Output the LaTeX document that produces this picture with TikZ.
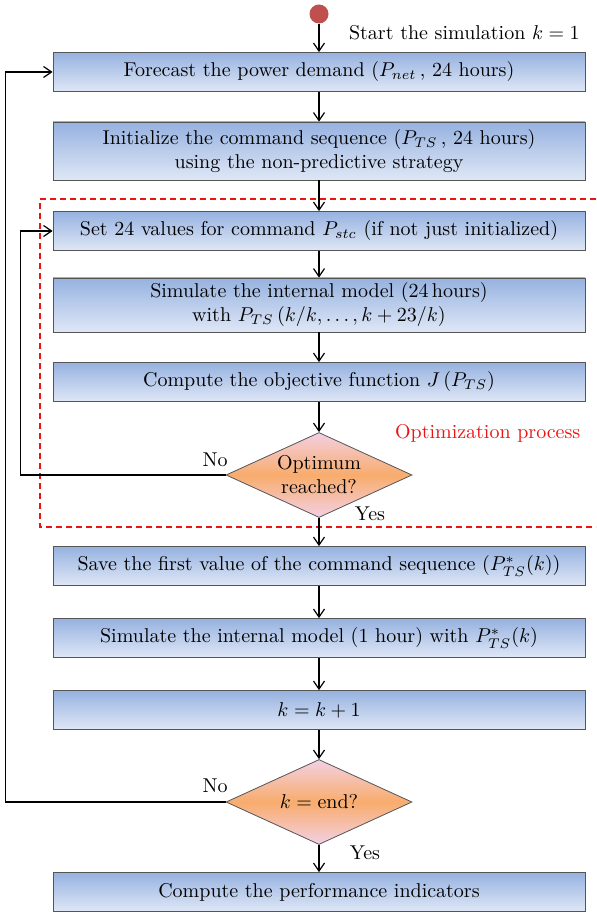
\documentclass[tikz,border=0pt]{standalone}
\usepackage{amsmath}
\usepackage{amssymb}
\usepackage{xcolor}
\usepackage{tikz}
\usetikzlibrary{shapes.geometric, arrows.meta}
\definecolor{startred}{RGB}{192, 80, 77}
\definecolor{boxtop}{RGB}{150, 178, 224}
\definecolor{boxbottom}{RGB}{223, 231, 246}
\definecolor{decisionpink}{RGB}{243, 208, 228}
\definecolor{decisionorange}{RGB}{248, 172, 108}
\definecolor{bordergray}{RGB}{85, 85, 85}
\definecolor{optired}{RGB}{235, 20, 20}

\begin{document}
\begin{tikzpicture}[
        x=0.5pt, y=-0.5pt,
        stepbox/.style={rectangle, draw=bordergray, top color=boxtop, bottom color=boxbottom, minimum width=266pt, minimum height=19.5pt, inner sep=2pt, align=center, text=black},
        decision/.style={diamond, draw=bordergray, top color=decisionpink, bottom color=decisionpink, middle color=decisionorange, minimum width=93pt, minimum height=42.5pt, inner sep=0pt, aspect=2.2, align=center, text=black},
        startdot/.style={circle, fill=startred, minimum size=9.5pt, inner sep=0pt},
        flow/.style={-{Straight Barb[length=4pt, width=5.5pt]}, semithick},
        optibox/.style={optired, semithick, dash pattern=on 3pt off 2pt}
    ]
    \useasboundingbox (0,0) rectangle (596,913);

    % Optimization frame (open on the right)
    \draw[optibox] (596,199) -- (40,199) -- (40,527) -- (596,527);
    \node[text=optired, anchor=west] (optilabel) at (388,433) {Optimization process};

    % Start
    \node[startdot] (start) at (319,14) {};
    \node[anchor=west] (startlabel) at (342,33) {Start the simulation $k=1$};

    % Steps
    \node[stepbox] (forecast) at (319,72) {Forecast the power demand ($P_{net}$\,, 24 hours)};
    \node[stepbox, minimum height=29pt] (init) at (319,151) {Initialize the command sequence ($P_{TS}$\,, 24 hours)\\ using the non-predictive strategy};
    \node[stepbox] (setvalues) at (319,231) {Set 24 values for command $P_{stc}$ (if not just initialized)};
    \node[stepbox, minimum height=27pt] (siminternal) at (319,305) {Simulate the internal model (24\,hours)\\ with $P_{TS}\,(k/k, \ldots, k+23/k)$};
    \node[stepbox] (objective) at (319,382) {Compute the objective function $J\,(P_{TS})$};
    \node[decision] (optimum) at (319,475) {Optimum\\ reached?};
    \node[stepbox] (savefirst) at (319,566) {Save the first value of the command sequence ($P^{*}_{TS}(k)$)};
    \node[stepbox] (simhour) at (319,638) {Simulate the internal model (1 hour) with $P^{*}_{TS}(k)$};
    \node[stepbox] (increment) at (319,710) {$k=k+1$};
    \node[decision] (kend) at (319,802) {$k=\text{end}$?};
    \node[stepbox] (indicators) at (319,892) {Compute the performance indicators};

    % Labels
    \node (optno) at (215,460) {No};
    \node (optyes) at (370,514) {Yes};
    \node (endno) at (215,786) {No};
    \node (endyes) at (365,853) {Yes};

    % Flows
    \draw[flow] (start) -- (forecast);
    \draw[flow] (forecast) -- (init);
    \draw[flow] (init) -- (setvalues);
    \draw[flow] (setvalues) -- (siminternal);
    \draw[flow] (siminternal) -- (objective);
    \draw[flow] (objective) -- (optimum);
    \draw[flow] (optimum) -- (savefirst);
    \draw[flow] (savefirst) -- (simhour);
    \draw[flow] (simhour) -- (increment);
    \draw[flow] (increment) -- (kend);
    \draw[flow] (kend) -- (indicators);
    \draw[flow] (optimum.west) -- ++(-205,0) |- (setvalues.west);
    \draw[flow] (kend.west) -- ++(-220,0) |- (forecast.west);

\end{tikzpicture}
\end{document}
